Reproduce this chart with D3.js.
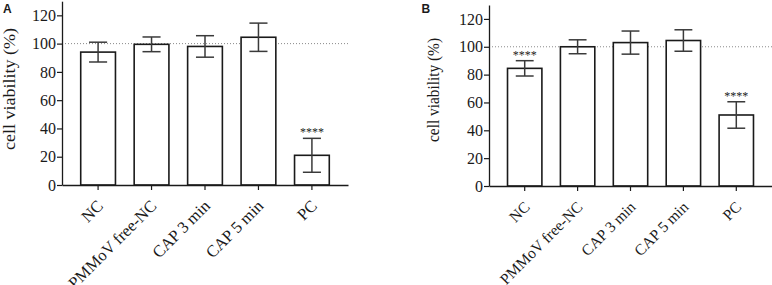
<!DOCTYPE html>
<html>
<head>
<meta charset="utf-8">
<script src="https://cdn.jsdelivr.net/npm/d3@7"></script>
<style>
  body { margin: 0; background: #fff; }
  svg text { font-family: "Liberation Serif", "Times New Roman", serif; fill: #1a1a1a; }
  .panel-label { font-family: "Liberation Sans", Arial, sans-serif !important; font-weight: bold; }
</style>
</head>
<body>
<div id="chart"></div>
<script>
// categories shared by both panels
var categories = ["NC", "PMMoV free-NC", "CAP 3 min", "CAP 5 min", "PC"];
var yTicks = [0, 20, 40, 60, 80, 100, 120];

// panel A
var meanA = [94, 99.5, 98, 104.5, 21];
var errA  = [7, 5.2, 7.6, 10, 12];
var starsA = ["", "", "", "", "****"];

// panel B
var meanB = [84.5, 100, 103, 104.5, 51];
var errB  = [5.5, 5, 8.3, 7.7, 9.5];
var starsB = ["****", "", "", "", "****"];

var svg = d3.select("#chart")
  .append("svg")
    .attr("width", 772)
    .attr("height", 285);

function drawPanel(opt) {
  var g = svg.append("g");

  var y = d3.scaleLinear()
      .domain([0, 130])
      .range([opt.y0, opt.yTop]);

  var x = d3.scaleBand()
      .domain(categories)
      .range([opt.x0, opt.x1])
      .paddingInner(0.35)
      .paddingOuter(0.35);

  // reference line at 100 %
  g.append("line")
    .attr("x1", opt.x0).attr("x2", opt.x1)
    .attr("y1", y(100)).attr("y2", y(100))
    .attr("stroke", "#8a8a8a")
    .attr("stroke-width", 1)
    .attr("stroke-dasharray", "1,2");

  var rows = categories.map(function(c, i) {
    return {cat: c, mean: opt.mean[i], err: opt.err[i], stars: opt.stars[i]};
  });

  // bars
  g.selectAll("rect.bar")
    .data(rows)
    .enter()
    .append("rect")
      .attr("class", "bar")
      .attr("x", function(d) { return x(d.cat); })
      .attr("y", function(d) { return y(d.mean); })
      .attr("width", x.bandwidth())
      .attr("height", function(d) { return opt.y0 - y(d.mean); })
      .attr("fill", "#fff")
      .attr("stroke", "#1a1a1a")
      .attr("stroke-width", 1.6);

  // error bars
  var cap = x.bandwidth() * 0.26;
  var eb = g.selectAll("g.err")
    .data(rows)
    .enter()
    .append("g")
      .attr("class", "err")
      .attr("stroke", "#3a3a3a")
      .attr("stroke-width", 1.5);
  eb.append("line")
    .attr("x1", function(d) { return x(d.cat) + x.bandwidth() / 2; })
    .attr("x2", function(d) { return x(d.cat) + x.bandwidth() / 2; })
    .attr("y1", function(d) { return y(d.mean + d.err); })
    .attr("y2", function(d) { return y(d.mean - d.err); });
  eb.append("line")
    .attr("x1", function(d) { return x(d.cat) + x.bandwidth() / 2 - cap; })
    .attr("x2", function(d) { return x(d.cat) + x.bandwidth() / 2 + cap; })
    .attr("y1", function(d) { return y(d.mean + d.err); })
    .attr("y2", function(d) { return y(d.mean + d.err); });
  eb.append("line")
    .attr("x1", function(d) { return x(d.cat) + x.bandwidth() / 2 - cap; })
    .attr("x2", function(d) { return x(d.cat) + x.bandwidth() / 2 + cap; })
    .attr("y1", function(d) { return y(d.mean - d.err); })
    .attr("y2", function(d) { return y(d.mean - d.err); });

  // significance stars
  g.selectAll("text.stars")
    .data(rows.filter(function(d) { return d.stars; }))
    .enter()
    .append("text")
      .attr("class", "stars")
      .attr("x", function(d) { return x(d.cat) + x.bandwidth() / 2; })
      .attr("y", function(d) { return y(d.mean + d.err) - 2; })
      .attr("text-anchor", "middle")
      .attr("fill", "#333")
      .style("font-size", "12px")
      .text(function(d) { return d.stars; });

  // y axis
  var yAxis = g.append("g")
    .attr("transform", "translate(" + opt.x0 + ",0)")
    .call(d3.axisLeft(y).tickValues(yTicks).tickSize(5).tickPadding(1).tickSizeOuter(0))
    .attr("font-family", "Liberation Serif")
    .attr("font-size", 16);
  yAxis.select(".domain").attr("stroke", "#1a1a1a").attr("stroke-width", 1.3);
  yAxis.selectAll(".tick line").attr("stroke", "#1a1a1a").attr("stroke-width", 1.2);
  yAxis.selectAll(".tick text")
    .style("font-size", "16px")
    .attr("fill", "#1a1a1a");

  // x axis
  var xAxis = g.append("g")
    .attr("transform", "translate(0," + opt.y0 + ")")
    .call(d3.axisBottom(x).tickSize(5).tickSizeOuter(0))
    .attr("font-family", "Liberation Serif")
    .attr("font-size", 16);
  xAxis.select(".domain").attr("stroke", "#1a1a1a").attr("stroke-width", 1.3);
  xAxis.selectAll(".tick line").attr("stroke", "#1a1a1a").attr("stroke-width", 1.2);
  xAxis.selectAll(".tick text")
    .attr("y", 0)
    .attr("dy", 0)
    .attr("text-anchor", "end")
    .attr("transform", "translate(6,22) rotate(-45)")
    .style("font-size", opt.xFont + "px")
    .attr("fill", "#1a1a1a");

  // y title
  g.append("text")
    .attr("transform", "translate(" + opt.titleX + "," + opt.titleY + ") rotate(-90)")
    .attr("text-anchor", "middle")
    .attr("dy", "0.35em")
    .attr("textLength", opt.titleLen)
    .attr("lengthAdjust", "spacingAndGlyphs")
    .style("font-size", "16px")
    .text("cell viability (%)");

  // panel letter
  g.append("text")
    .attr("class", "panel-label")
    .attr("x", opt.labelX)
    .attr("y", 12.5)
    .style("font-size", "12px")
    .text(opt.label);
}

drawPanel({
  label: "A", labelX: 3,
  mean: meanA, err: errA, stars: starsA,
  x0: 62, x1: 348, y0: 185, yTop: 1.2, xFont: 16.5,
  titleX: 9.5, titleY: 89, titleLen: 122
});

drawPanel({
  label: "B", labelX: 421.5,
  mean: meanB, err: errB, stars: starsB,
  x0: 489, x1: 772, y0: 186, yTop: 5, xFont: 15.5,
  titleX: 433, titleY: 90, titleLen: 104
});
</script>
</body>
</html>
